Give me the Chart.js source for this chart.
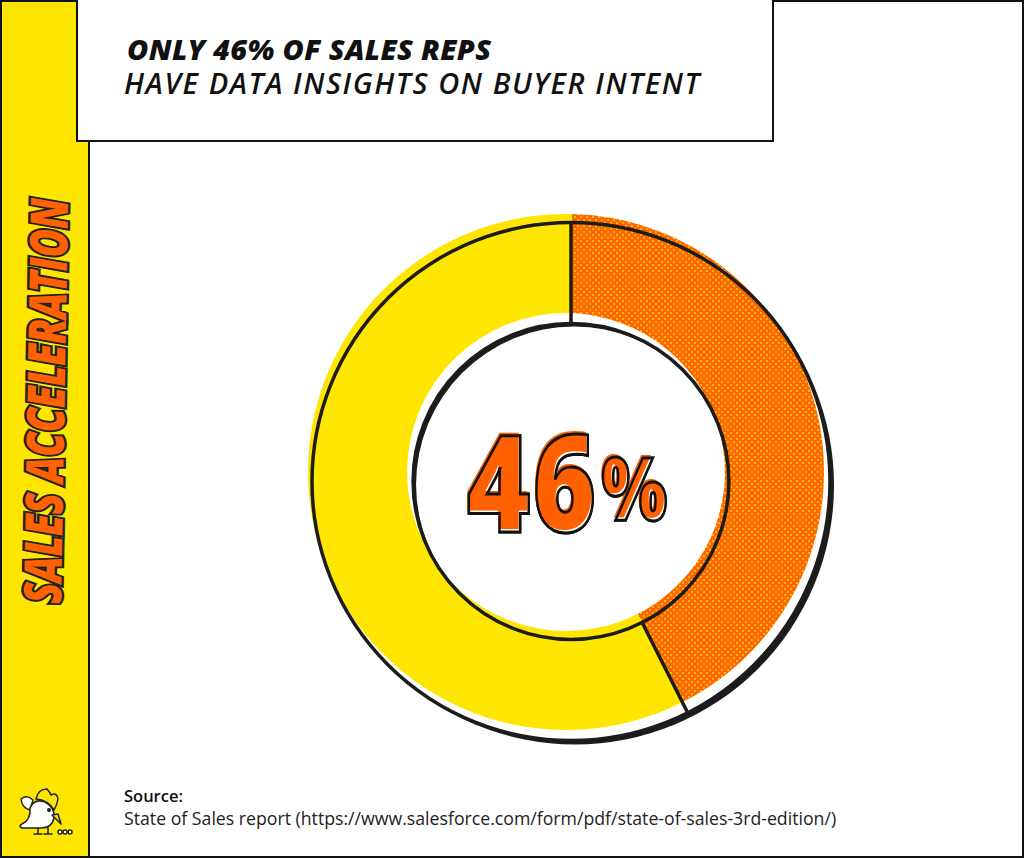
<!DOCTYPE html>
<html>
<head>
<meta charset="utf-8">
<title>Sales Acceleration</title>
<script src="https://cdn.jsdelivr.net/npm/chart.js@4"></script>
<style>
  html, body { margin: 0; padding: 0; background: #fff; }
  #page { position: relative; width: 1024px; height: 858px; overflow: hidden; background: #fff; }
  #frame { position: absolute; left: 0; top: 0; width: 1020px; height: 854px; border: 2px solid #111; }
  #band { position: absolute; left: 2px; top: 0; width: 86px; height: 858px; background: #ffe600; border-right: 2px solid #111; }
  #head { position: absolute; left: 76px; top: -2px; width: 694px; height: 140px; background: #fff; border: 2px solid #111; }
  #title1, #title2 { position: absolute; white-space: nowrap; color: #111; font-family: "Open Sans", sans-serif; font-style: italic; }
  #title1 { left: 127px; top: 30px; font-size: 29px; font-weight: 800; line-height: 38px; letter-spacing: 0.3px; }
  #title2 { left: 124px; top: 64px; font-size: 29px; font-weight: 600; line-height: 38px; letter-spacing: 1.6px; }
  #side { position: absolute; left: 44px; top: 401px; transform: translate(-50%, -50%) rotate(-89deg) scale(0.745, 1); white-space: nowrap;
    font-family: "Open Sans", sans-serif; font-style: italic; font-weight: 800; font-size: 52px;
    color: #ff6100; -webkit-text-stroke: 5px #222; paint-order: stroke fill; }
  #chart { position: absolute; left: 286px; top: 192px; width: 560px; height: 560px; }
  #big { position: absolute; left: 567px; top: 503px; transform: translate(-50%, -50%) scaleX(0.8); white-space: nowrap;
    font-family: "Open Sans", sans-serif; font-weight: 800; line-height: 120px; }
  #big span { position: relative; display: inline-block; color: #fff; -webkit-text-stroke: 3px #111; paint-order: stroke fill; }
  #big .digits { font-size: 135px; letter-spacing: 3px; }
  #big .sign { font-size: 86px; margin-left: 4px; top: -12px; }
  #big span::before { content: attr(data-text); position: absolute; left: -2px; top: -3px; color: #ff6100; -webkit-text-stroke: 0; }
  #big span::after { content: attr(data-text); position: absolute; left: 0; top: 0; color: transparent; -webkit-text-stroke: 3px #111; }
  #source { position: absolute; left: 124px; top: 784px; color: #222; font-family: "Open Sans", sans-serif; font-size: 17.7px; line-height: 23px; white-space: nowrap; }
  #source b { font-weight: 600; font-size: 16.5px; color: #111; }
  #logo { position: absolute; left: 14px; top: 786px; }
</style>
</head>
<body>
<div id="page">
  <div id="band"></div>
  <div id="frame"></div>
  <div id="head"></div>
  <div id="title1">ONLY 46% OF SALES REPS</div>
  <div id="title2">HAVE DATA INSIGHTS ON BUYER INTENT</div>
  <div id="side">SALES ACCELERATION</div>
  <canvas id="chart" width="560" height="560"></canvas>
  <div id="big"><span class="digits" data-text="46">46</span><span class="sign" data-text="%">%</span></div>
  <div id="source"><b>Source:</b><br>State of Sales report (https://www.salesforce.com/form/pdf/state-of-sales-3rd-edition/)</div>
  <svg id="logo" width="62" height="52" viewBox="0 0 62 52">
    <g stroke="#222" stroke-width="1.5" stroke-linejoin="round" stroke-linecap="round">
      <path d="M22 13 Q24 3 33 3 Q36 6 37 9 Q43 6 44 13 Q43 19 40 24 Q34 14 22 13Z" fill="#ffe600"/>
      <path d="M7 13 Q13 8 19 14 L16 24 Q8 22 7 13Z" fill="#fff"/>
      <path d="M16 22 Q20 12 31 16 Q41 21 40 32 Q38 42 27 42 Q14 42 8 42 Q4 40 8 38 Q17 34 16 22Z" fill="#fff"/>
      <path d="M38 29 L44 28 L47 38 Z" fill="#ffe600"/>
      <path d="M24 42 V48 M20 48 H28 M34 41 V48 M30 48 H38" fill="none"/>
      <circle cx="46" cy="46" r="2" fill="#fff"/><circle cx="51" cy="46" r="2" fill="#fff"/><circle cx="56" cy="46" r="2" fill="#fff"/>
    </g>
    <circle cx="35" cy="24" r="2" fill="#222"/>
  </svg>
</div>
<script>
// the big label says 46%, the slice as drawn only covers about 42% of the ring
const categories = ['Have data insights', 'Do not']
const values = [42.2, 57.8]

const orange = '#ff6600'
const dots = '#ffb800'
const yellow = '#ffe600'
const ink = '#1c1c1c'

// halftone fill for the orange slice
function halftone() {
  let tile = document.createElement('canvas')
  tile.width = tile.height = 6
  let c = tile.getContext('2d')
  c.fillStyle = orange
  c.fillRect(0, 0, 6, 6)
  c.fillStyle = dots
  c.fillRect(0, 0, 2, 2)
  c.fillRect(3, 3, 2, 2)
  return c.createPattern(tile, 'repeat')
}

// inked outline sits off-register from the colour, like a comic print
const shift = { x: 5, y: 9.5 }
const shadow = 4
const tilt = 1.3

const inkPlugin = {
  id: 'ink',
  beforeDatasetsDraw(chart) {
    let arc = chart.getDatasetMeta(0).data[0]
    let ctx = chart.ctx
    let x = arc.x + shift.x
    let y = arc.y + shift.y
    let r = arc.outerRadius + 1
    ctx.save()
    ctx.fillStyle = ink
    ctx.beginPath()
    ctx.arc(x + shadow, y + shadow, r, 0, Math.PI * 2)
    ctx.fill()
    ctx.fillStyle = '#fff'
    ctx.beginPath()
    ctx.arc(x, y, r, 0, Math.PI * 2)
    ctx.fill()
    ctx.restore()
  },
  afterDatasetsDraw(chart) {
    let arcs = chart.getDatasetMeta(0).data
    let ctx = chart.ctx
    let x = arcs[0].x + shift.x
    let y = arcs[0].y + shift.y
    let outer = arcs[0].outerRadius + 1
    let inner = arcs[0].innerRadius - 1
    ctx.save()
    ctx.strokeStyle = ink
    ctx.lineWidth = 3.5
    ctx.beginPath()
    ctx.arc(x, y, outer, 0, Math.PI * 2)
    ctx.stroke()
    ctx.beginPath()
    ctx.arc(x, y, inner, 0, Math.PI * 2)
    ctx.stroke()
    arcs.forEach((arc, i) => {
      // the top line stands straight up, the colour is what is tilted there
      let angle = i == 0 ? arc.startAngle - (tilt * Math.PI) / 180 : arc.startAngle
      let cos = Math.cos(angle)
      let sin = Math.sin(angle)
      ctx.beginPath()
      ctx.moveTo(x + inner * cos, y + inner * sin)
      ctx.lineTo(x + outer * cos, y + outer * sin)
      ctx.stroke()
    })
    // thick side of the inner circle
    ctx.beginPath()
    ctx.arc(x, y, inner, 0, Math.PI * 2)
    ctx.clip()
    ctx.fillStyle = ink
    ctx.beginPath()
    ctx.rect(x - inner, y - inner, inner * 2, inner * 2)
    ctx.arc(x + 3, y + 3, inner, 0, Math.PI * 2)
    ctx.fill('evenodd')
    ctx.restore()
  },
}

new Chart(document.getElementById('chart'), {
  type: 'doughnut',
  data: {
    labels: categories,
    datasets: [
      {
        data: values,
        backgroundColor: [halftone(), yellow],
        borderWidth: 0,
      },
    ],
  },
  options: {
    responsive: false,
    animation: false,
    radius: 258,
    cutout: '61.6%',
    rotation: tilt,
    plugins: {
      legend: { display: false },
      tooltip: { enabled: false },
    },
  },
  plugins: [inkPlugin],
})
</script>
</body>
</html>
